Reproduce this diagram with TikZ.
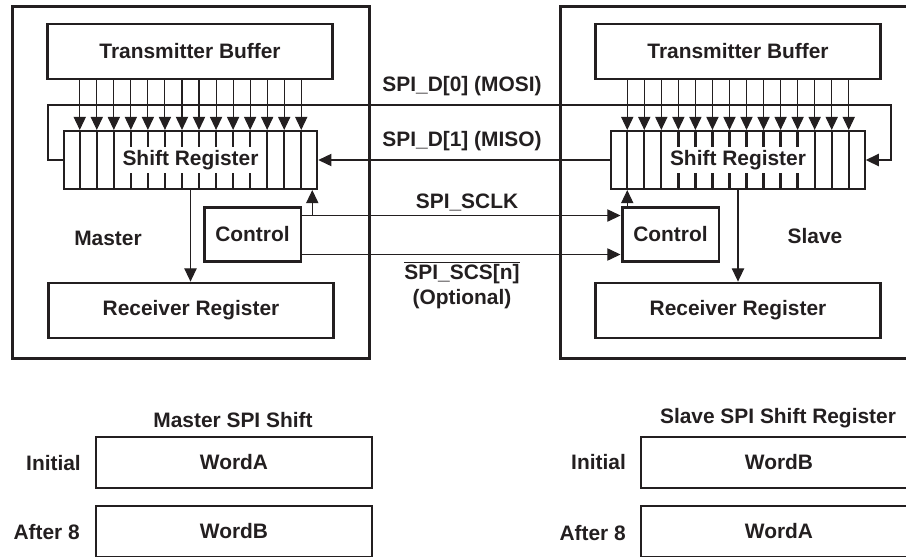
\documentclass[tikz,border=0pt]{standalone}
\usepackage{fontspec}
\setmainfont{Liberation Sans}
\usetikzlibrary{arrows.meta,calc}
\definecolor{ink}{RGB}{35,31,32}
\tikzset{
    every node/.style={font=\bfseries\fontsize{11.9}{14}\selectfont, text=ink},
    outer/.style={draw=ink, line width=1.7pt, minimum width=7.16cm, minimum height=7.06cm},
    blk/.style={draw=ink, line width=1.6pt, minimum width=5.7cm, minimum height=1.1cm},
    reg/.style={draw=ink, line width=1.2pt, minimum width=5.07cm, minimum height=1.16cm},
    ctl/.style={draw=ink, line width=1.7pt, minimum width=1.94cm, minimum height=1.08cm},
    word/.style={draw=ink, line width=1.6pt, minimum width=5.52cm, minimum height=1.02cm},
    cell/.style={draw=ink, line width=1.3pt},
    feed/.style={draw=ink, line width=0.6pt, -{Triangle[length=7.5pt,width=7pt]}},
    bus/.style={draw=ink, line width=1.1pt, -{Triangle[length=7.5pt,width=7pt]}},
    link/.style={draw=ink, line width=0.6pt, -{Triangle[length=7.5pt,width=7pt]}},
    tag/.style={fill=white, inner sep=2pt}
}
\begin{document}
\begin{tikzpicture}[x=0.02cm, y=-0.02cm]
\useasboundingbox (0,0) rectangle (906,556);
\clip (0,0) rectangle (906,556);

\node[outer] at (191,182.5) (mst) {};
\node[outer] at (739,182.5) (slv) {};

\node[blk] at (190,51.5) (txM) {Transmitter Buffer};
\node[reg] at (190.5,160) (srM) {};
\node[blk] at (191,310.5) (rxM) {Receiver Register};
\node[ctl] at (252.5,234) (ctlM) {Control};
\node at (108,238) (lblM) {Master};

\node[blk] at (738,51.5) (txS) {Transmitter Buffer};
\node[reg] at (738,160) (srS) {};
\node[blk] at (738,310.5) (rxS) {Receiver Register};
\node[ctl] at (670.5,234) (ctlS) {Control};
\node at (815,236) (lblS) {Slave};

\foreach \r/\t in {srM/txM, srS/txS} {
  \foreach \i in {1,...,14} {
    \coordinate (\r\i) at ($(\r.north west)!\i/15!(\r.north east)$);
    \draw[cell] (\r\i) -- (\r\i |- \r.south);
    \draw[feed] (\r\i |- \t.south) -- (\r\i);
  }
}
\node[tag] at (srM) (srMtag) {Shift Register};
\node[tag] at (srS) (srStag) {Shift Register};

\coordinate (mosi) at (891,105);
\draw[bus] (srM.west) -- ++(-15,0) |- (mosi) |- (srS.east);
\draw[link] (srS.west) -- (srM.east);

\coordinate (sclk) at ($(ctlM.north east)+(0,10)$);
\draw[link] (sclk) -- (sclk -| ctlS.west);
\coordinate (clkM) at ($(srM.south east)+(-6,0)$);
\draw[link] (clkM |- sclk) -- (clkM);
\coordinate (clkS) at (srS1 |- srS.south);
\draw[link] (clkS |- ctlS.north) -- (clkS);

\coordinate (scs) at ($(ctlM.south east)+(0,-8)$);
\draw[link] (scs) -- (scs -| ctlS.west);

\draw[link] (srM.south) -- (srM.south |- rxM.north);
\draw[link] (srS.south) -- (srS.south |- rxS.north);

\node at (462,86) (mosiLbl) {SPI\_D[0] (MOSI)};
\node at (462,141) (misoLbl) {SPI\_D[1] (MISO)};
\node at (467,202) (sclkLbl) {SPI\_SCLK};
\node[align=center] at (462,285) (scsLbl) {$\overline{\hbox{SPI\_SCS[n]}}$\\(Optional)};

\node at (233,420) (mTitle) {Master SPI Shift};
\node[word] at (234,462.5) (mA) {WordA};
\node[word] at (234,531.5) (mB) {WordB};
\node[anchor=east] at (87,463) (mInit) {Initial};
\node[anchor=east] at (86,532) (mAfter) {After 8};

\node at (778,418) (sTitle) {Slave SPI Shift Register};
\node[word] at (779,462.5) (sB) {WordB};
\node[word] at (779,531.5) (sA) {WordA};
\node[anchor=east] at (632,462) (sInit) {Initial};
\node[anchor=east] at (632,533) (sAfter) {After 8};
\end{tikzpicture}
\end{document}
